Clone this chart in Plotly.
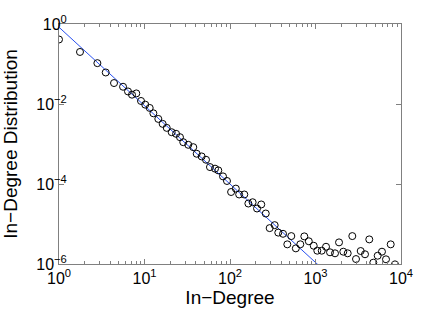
import numpy as np
import plotly.graph_objects as go

# In-degree values (x) and distribution (y)
in_degree = [1, 1.76, 2.81, 3.52, 4.40, 5.61, 6.41, 7.14, 8.02, 9.10, 10.2, 11.5,
             12.7, 14.5, 16.3, 18.2, 20.8, 23.4, 26.0, 28.4, 32.5, 37.2, 40.8, 46.6,
             52.4, 58.3, 66.8, 73.0, 82.8, 92.2, 103, 117, 128, 147, 164, 184, 207,
             232, 262, 291, 333, 367, 417, 468, 521, 589, 664, 740, 835, 953, 1050,
             1183, 1328, 1479, 1691, 1884, 2115, 2380, 2694, 2976, 3378, 3793, 4256,
             4743, 5336, 5992, 6679, 7580, 8504]
distribution = [0.41, 0.20, 0.105, 0.0614, 0.0334, 0.0270, 0.0206, 0.0171, 0.0184,
                0.0119, 0.00963, 0.00797, 0.00585, 0.00424, 0.00319, 0.00253, 0.00197,
                0.00180, 0.00148, 0.00111, 0.000955, 0.000833, 0.000570, 0.000489,
                0.000404, 0.000265, 0.000242, 0.000219, 0.000155, 0.000119, 6.31e-5,
                7.67e-5, 5.47e-5, 5.47e-5, 3.25e-5, 3.50e-5, 2.44e-5, 3.08e-5, 1.83e-5,
                7.89e-6, 9.36e-6, 6.09e-6, 5.69e-6, 3.10e-6, 4.99e-6, 2.46e-6, 3.11e-6,
                4.90e-6, 3.70e-6, 2.86e-6, 2.15e-6, 2.15e-6, 2.70e-6, 1.96e-6, 1.85e-6,
                3.47e-6, 2.03e-6, 1.85e-6, 4.99e-6, 1.33e-6, 2.11e-6, 1.75e-6, 4.12e-6,
                1.08e-6, 1.61e-6, 2.03e-6, 1.31e-6, 3.10e-6, 0.98e-6]

# Power-law fit y = c * x^alpha
fit_coef = 0.83
fit_exponent = -1.96

x_ticks = [1, 10, 100, 1000, 10000]
x_tick_text = ["10<sup>0</sup>", "10<sup>1</sup>", "10<sup>2</sup>", "10<sup>3</sup>", "10<sup>4</sup>"]
y_ticks = [1, 1e-2, 1e-4, 1e-6]
y_tick_text = ["10<sup>0</sup>", "10<sup>\u22122</sup>", "10<sup>\u22124</sup>", "10<sup>\u22126</sup>"]

fit_x = np.logspace(0, 3.3, 50)
fit_y = fit_coef * fit_x ** fit_exponent

font = "Liberation Sans, Arial, Helvetica, sans-serif"
axis_color = "#808080"

fig = go.Figure()
fig.add_trace(go.Scatter(x=fit_x, y=fit_y, mode="lines",
                         line=dict(color="rgb(40,80,240)", width=1), showlegend=False))
fig.add_trace(go.Scatter(x=in_degree, y=distribution, mode="markers",
                         marker=dict(symbol="circle-open", size=7, color="black",
                                     line=dict(width=1, color="black")),
                         showlegend=False))

fig.update_layout(
    width=443, height=309,
    margin=dict(l=59, r=42, t=24, b=45, autoexpand=False),
    paper_bgcolor="white", plot_bgcolor="white",
    font=dict(family=font, size=16, color="black"),
)
fig.update_xaxes(
    type="log", range=[0, 4], automargin=False,
    tickvals=x_ticks, ticktext=x_tick_text,
    ticks="inside", ticklen=5, tickcolor=axis_color,
    minor=dict(ticks="inside", ticklen=3, tickcolor=axis_color, dtick="D1", showgrid=False),
    showline=True, linecolor=axis_color, linewidth=1, mirror="allticks",
    showgrid=False, zeroline=False,
    title=dict(text="In\u2212Degree", standoff=2),
    tickfont=dict(size=16),
)
fig.update_yaxes(
    type="log", range=[-6, 0], automargin=False,
    tickvals=y_ticks, ticktext=y_tick_text,
    ticks="inside", ticklen=5, tickcolor=axis_color,
    ticklabelstandoff=-12,
    showline=True, linecolor=axis_color, linewidth=1, mirror="allticks",
    showgrid=False, zeroline=False,
    title=dict(text="In\u2212Degree Distribution", standoff=14),
    tickfont=dict(size=16),
)

fig.write_html("out.html", config={"displayModeBar": False},
               post_script="document.body.style.margin='0px';document.body.style.overflow='hidden';")
